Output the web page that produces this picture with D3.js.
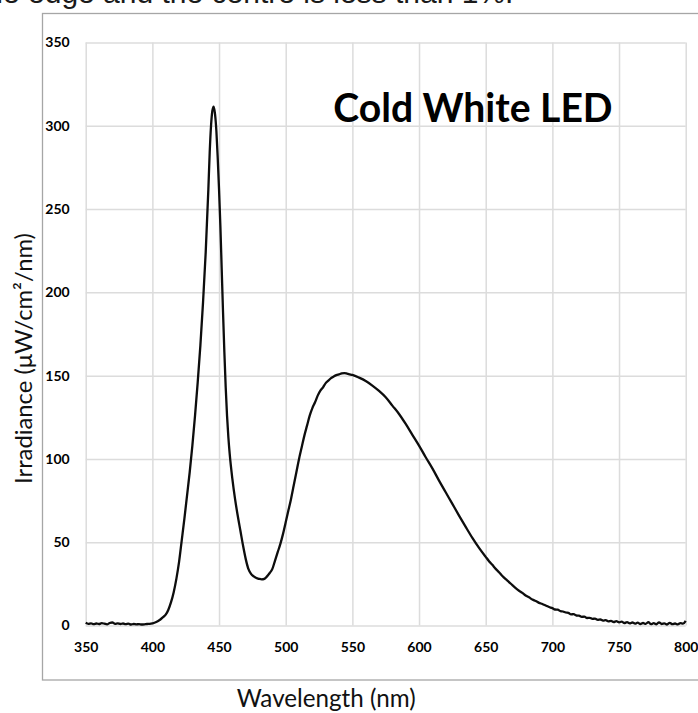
<!DOCTYPE html>
<html>
<head>
<meta charset="utf-8">
<script src="https://cdn.jsdelivr.net/npm/d3@7"></script>
<style>
  html, body { margin: 0; padding: 0; background: #fff; overflow: hidden; }
  svg { display: block; }
</style>
</head>
<body>
<svg id="chart" width="698" height="713"></svg>
<script>
// Spectral irradiance of a cold white LED (wavelength in nm, irradiance in µW/cm²/nm)
const wavelength = [
  350,352,354,356,358,360,362,364,366,368,370,372,374,376,378,380,382,384,386,388,390,392,394,396,398,400,
  402,404,406,408,410,412,414,416,418,420,422,424,426,428,430,432,434,436,438,440,442,443,444,445,
  446,447,448,449,450,451,452,453,454,455,456,457,458,460,462,464,466,468,470,472,474,476,478,480,482,484,486,488,
  490,492,494,496,498,500,502,504,506,508,510,512,514,516,518,520,522,524,526,528,530,532,534,536,538,540,542,544,
  546,548,550,555,560,565,570,575,580,585,590,595,600,605,610,615,620,625,630,635,640,645,650,652.5,655,657.5,660,
  662.5,665,667.5,670,672.5,675,677.5,680,682.5,685,687.5,690,692.5,695,697.5,
  700,702,704,706,708,710,712,714,716,718,720,722,724,726,728,730,732,734,736,738,740,742,744,746,748,750,
  752,754,756,758,760,762,764,766,768,770,772,774,776,778,780,782,784,786,788,790,792,794,796,798,800
];
const irradiance = [
  1.6,1.0,1.3,0.8,1.2,0.9,1.4,1.1,0.7,1.5,1.8,1.0,1.3,0.9,1.2,0.8,1.1,0.6,0.9,0.7,0.8,0.6,0.7,0.9,1.0,1.3,
  1.8,2.6,3.6,5.0,6.5,9.5,14,20,28,38,51,64,78,92,108,126,146,168,194,224,262,284,300,309,
  311.5,307,297,281,262,240,214,188,164,143,126,113,103,88,76,66,57,48,40,34,31,29.5,28.5,28,27.7,28,29.5,31.5,
  34,39,44,49,55,62,69,76,84,92,100,107,114,120,126,130.5,134,138,141,143,145.5,147,148.5,149.5,150.3,150.8,151.3,151.5,
  151.2,150.8,150.4,148.8,146.8,144,140.8,137,132,127,121,114.5,108,101,94.3,87,80,73,66,59.2,52.6,46.6,41.2,38.6,36.4,34.0,32.0,
  29.7,27.8,26.1,24.2,22.4,20.9,19.6,18.0,16.9,15.6,14.7,13.6,12.9,12.0,11.1,
  10.4,9.6,9.5,8.6,8.4,7.8,7.6,6.7,6.8,6.0,5.9,5.2,5.3,4.5,4.6,4.0,4.1,3.4,3.6,2.9,3.2,2.5,2.8,2.1,2.6,1.9,
  2.3,1.5,2.0,1.3,1.8,1.1,1.7,0.9,1.5,1.0,2.0,0.8,1.4,0.7,1.9,0.9,1.3,0.6,1.6,0.8,1.2,0.7,1.4,1.1,2.8
];
const xTicks = [350, 400, 450, 500, 550, 600, 650, 700, 750, 800];
const yTicks = [0, 50, 100, 150, 200, 250, 300, 350];

const chartTitle = "Cold White LED";
const xTitle = "Wavelength (nm)";
const yTitle = "Irradiance (μW/cm²/nm)";
const captionLine = "the edge and the centre is less than 1%.";

const svg = d3.select("#chart");
const plot = { left: 85.7, right: 685.7, top: 42.5, bottom: 625.5 };

const x = d3.scaleLinear().domain([350, 800]).range([plot.left, plot.right]);
const y = d3.scaleLinear().domain([0, 350]).range([plot.bottom, plot.top]);

// Shrink or grow a text element's font size so it spans the given width
function fitWidth(sel, target) {
  const w = sel.node().getComputedTextLength();
  const fs = parseFloat(sel.attr("font-size"));
  sel.attr("font-size", (fs * target / w).toFixed(2));
  return sel;
}

// Trailing line of the surrounding document text, clipped at the top edge
svg.append("text")
  .attr("x", -22).attr("y", 3)
  .attr("font-family", "Liberation Sans, Arial, sans-serif")
  .attr("font-size", 30)
  .attr("fill", "#1a1a1a")
  .text(captionLine);

// Chart frame
svg.append("rect")
  .attr("x", 42.5).attr("y", 13.5)
  .attr("width", 700).attr("height", 666.5)
  .attr("fill", "none")
  .attr("stroke", "#a6a6a6")
  .attr("stroke-width", 1.3);

// Vertical gridlines + x tick labels
const xAxis = d3.axisBottom(x)
  .tickValues(xTicks)
  .tickSize(-(plot.bottom - plot.top))
  .tickPadding(17)
  .tickFormat(d3.format("d"));
const gx = svg.append("g")
  .attr("transform", `translate(0,${plot.bottom})`)
  .call(xAxis);
gx.select(".domain").remove();
gx.selectAll(".tick line").attr("stroke", "#dcdcdc").attr("stroke-width", 1.5);
gx.selectAll(".tick text")
  .attr("font-family", "Lato, sans-serif")
  .attr("font-weight", 700)
  .attr("font-size", 14)
  .attr("fill", "#000")
  .attr("dy", "0.71em")
  .attr("y", 16.5);

// Horizontal gridlines + y tick labels
const yAxis = d3.axisLeft(y)
  .tickValues(yTicks)
  .tickSize(-(plot.right - plot.left))
  .tickPadding(16)
  .tickFormat(d3.format("d"));
const gy = svg.append("g")
  .attr("transform", `translate(${plot.left},0)`)
  .call(yAxis);
gy.select(".domain").remove();
gy.selectAll(".tick line").attr("stroke", "#dcdcdc").attr("stroke-width", 1.5);
gy.selectAll(".tick text")
  .attr("font-family", "Lato, sans-serif")
  .attr("font-weight", 700)
  .attr("font-size", 14)
  .attr("fill", "#000");

// Spectrum line
const spectrum = wavelength.map((w, i) => ({ w, v: irradiance[i] }));
const line = d3.line()
  .x(d => x(d.w))
  .y(d => y(d.v))
  .curve(d3.curveMonotoneX);
svg.append("path")
  .datum(spectrum)
  .attr("fill", "none")
  .attr("stroke", "#0d0d0d")
  .attr("stroke-width", 2.3)
  .attr("stroke-linejoin", "round")
  .attr("d", line);

// Chart title
const title = svg.append("text")
  .attr("x", 333.3).attr("y", 122.3)
  .attr("font-family", "Lato, sans-serif")
  .attr("font-weight", 700)
  .attr("font-size", 38)
  .attr("fill", "#000")
  .text(chartTitle);
fitWidth(title, 279.4);

// Axis titles
const xt = svg.append("text")
  .attr("x", 236.7).attr("y", 707)
  .attr("font-family", "Lato, sans-serif")
  .attr("font-size", 22)
  .attr("fill", "#111")
  .text(xTitle);
fitWidth(xt, 179);

const yt = svg.append("text")
  .attr("transform", "translate(31.5,484) rotate(-90)")
  .attr("font-family", "Lato, sans-serif")
  .attr("font-size", 22)
  .attr("fill", "#111")
  .text(yTitle);
fitWidth(yt, 251);
</script>
</body>
</html>
